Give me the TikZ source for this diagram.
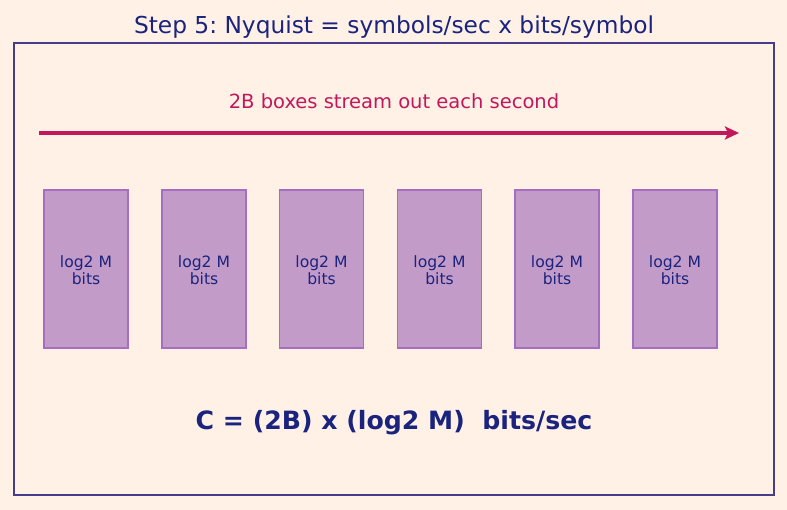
\documentclass[tikz,border=0pt]{standalone}
\usepackage{fontspec}
\setmainfont{DejaVu Sans}
\usetikzlibrary{arrows.meta}
\frenchspacing
\definecolor{bg}{HTML}{FFF1E6}
\definecolor{navy}{HTML}{1A237E}
\definecolor{framec}{HTML}{483D8B}
\definecolor{crim}{HTML}{C2185B}
\definecolor{boxfill}{HTML}{C39BC8}
\definecolor{boxedge}{HTML}{A66DC0}
\tikzset{
  bitbox/.style={draw=boxedge, line width=1.3pt, fill=boxfill, minimum width=84pt, minimum height=158pt, inner sep=0pt},
  boxtext/.style={align=center, text=navy, font=\fontsize{15.6}{17}\selectfont},
}
\begin{document}
\begin{tikzpicture}[x=1pt,y=-1pt]
\fill[bg] (0,0) rectangle (787,510);
\useasboundingbox (0,0) rectangle (787,510);
\node[text=navy, font=\fontsize{23.3}{23.3}\selectfont] (title) at (394,27) {Step 5: Nyquist = symbols/sec x bits/symbol};
\draw[framec, line width=1.3pt] (14,43) rectangle (774,495);
\node[text=crim, font=\fontsize{19.5}{19.5}\selectfont] (lbl) at (394,101) {2B boxes stream out each second};
\coordinate (a0) at (39,133);
\coordinate (a1) at (739,133);
\draw[crim, line width=3.5pt, -{Stealth[length=14pt,width=13pt,inset=3pt]}] (a0) -- (a1);
\foreach \i/\x in {1/86,2/204,3/321.5,4/439.5,5/557,6/675}{
  \node[bitbox] (b\i) at (\x,269) {};
  \node[boxtext] (t\i) at (\x,270.5) {log2 M\\bits};
}
\node[text=navy, font=\bfseries\fontsize{25.2}{25.2}\selectfont] (eq) at (394,423) {C = (2B) x (log2 M)\ \ bits/sec};
\end{tikzpicture}
\end{document}
